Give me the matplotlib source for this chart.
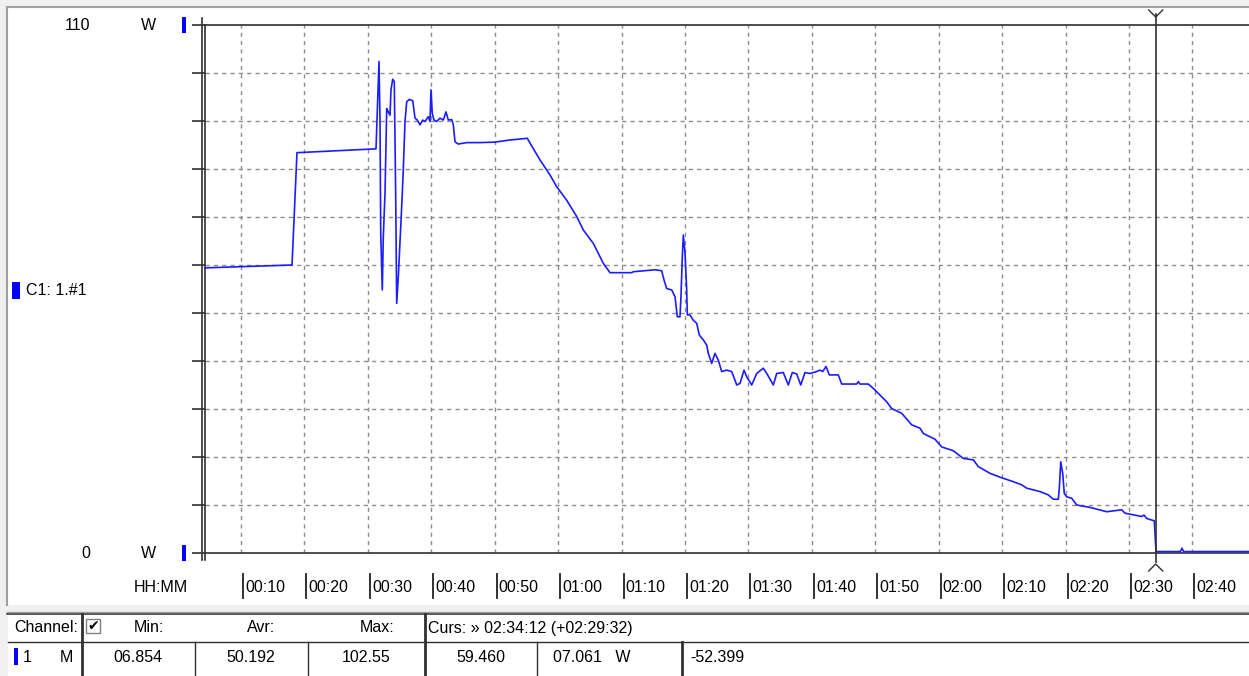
import matplotlib
matplotlib.use("Agg")
import matplotlib.pyplot as plt
import matplotlib.lines as lines
import matplotlib.patches as patches
from matplotlib.transforms import blended_transform_factory, offset_copy

# data: time in minutes since 00:00, power in W
times = [4.32, 18.04, 18.82, 31.28, 31.39, 31.64, 31.75, 31.91, 32.02, 32.27,
         32.43, 32.70, 32.97, 33.22, 33.49, 33.64, 33.91, 34.16, 34.38, 34.54,
         34.80, 35.06, 35.33, 35.58, 35.85, 36.12, 36.53, 37.07, 37.43, 37.79,
         38.22, 38.64, 39.00, 39.52, 39.79, 39.95, 40.15, 40.42, 40.85, 41.37,
         41.89, 42.31, 42.68, 43.21, 43.47, 43.73, 44.00, 44.25, 45.58, 47.68,
         50.04, 52.14, 55.13, 55.56, 57.13, 58.71, 59.77, 61.34, 62.92, 63.96,
         65.54, 67.11, 68.17, 71.59, 71.84, 75.26, 76.32, 76.68, 77.11, 77.90,
         78.42, 78.78, 79.20, 79.36, 79.57, 79.73, 80.00, 80.26, 80.36, 80.78,
         81.30, 81.84, 82.25, 82.88, 83.42, 83.67, 84.20, 84.72, 85.24, 85.78,
         86.57, 87.36, 88.15, 88.67, 89.30, 89.72, 90.51, 91.30, 92.34, 92.88,
         93.92, 94.45, 95.49, 96.28, 96.91, 97.61, 98.24, 98.91, 99.70, 100.76,
         101.28, 101.70, 102.23, 102.75, 104.16, 104.70, 107.06, 107.32, 107.58, 108.89,
         109.68, 110.74, 111.79, 112.58, 114.16, 115.73, 117.04, 117.56, 119.41, 120.46,
         122.29, 123.87, 125.45, 126.23, 128.08, 129.65, 131.75, 133.08, 133.87, 135.96,
         137.27, 138.06, 138.85, 139.01, 139.23, 139.54, 139.79, 140.17, 140.96, 141.75,
         143.84, 146.48, 148.84, 149.36, 152.00, 152.36, 152.78, 153.98, 154.25, 154.36,
         156.5, 158.1, 158.34, 158.6, 169.0]
watts = [59.4, 60.0, 83.4, 84.2, 88.5, 97.9, 102.4, 90.2, 66.9, 54.8,
         65.9, 75.0, 92.6, 91.9, 91.2, 96.5, 98.7, 98.2, 74.9, 52.0,
         57.6, 64.6, 72.2, 79.8, 89.9, 94.0, 94.5, 94.2, 90.6, 90.2,
         89.2, 90.2, 89.9, 90.9, 89.9, 96.5, 91.6, 90.2, 89.9, 90.6,
         90.2, 91.9, 90.2, 90.3, 89.2, 85.7, 85.4, 85.2, 85.5, 85.5,
         85.6, 86.0, 86.4, 85.4, 81.9, 78.75, 76.3, 73.5, 70.1, 67.3,
         64.5, 60.35, 58.4, 58.4, 58.6, 59.0, 58.8, 56.9, 55.1, 54.8,
         53.4, 49.2, 49.2, 53.4, 61.7, 66.25, 62.4, 54.8, 49.6, 49.6,
         48.5, 47.85, 45.4, 44.4, 43.3, 41.6, 39.5, 41.6, 40.2, 37.8,
         38.1, 37.8, 35.0, 35.35, 38.1, 36.7, 35.0, 37.4, 38.5, 37.4,
         35.0, 37.4, 37.6, 35.0, 37.6, 37.3, 35.0, 37.6, 37.4, 37.8,
         38.1, 37.8, 38.85, 37.1, 37.1, 35.2, 35.2, 35.7, 35.2, 35.2,
         34.3, 32.9, 31.5, 30.1, 29.1, 26.7, 26.0, 24.9, 23.7, 22.1,
         21.3, 19.7, 19.4, 18.0, 16.6, 15.8, 14.85, 14.2, 13.5, 12.8,
         12.1, 11.2, 11.2, 13.5, 19.0, 16.6, 12.4, 11.7, 11.4, 10.0,
         9.5, 8.6, 9.0, 8.3, 7.6, 7.9, 7.2, 6.7, 0.3, 0.3,
         0.3, 0.3, 1.0, 0.3, 0.3]

tick_minutes = [10, 20, 30, 40, 50, 60, 70, 80, 90, 100, 110, 120, 130, 140, 150, 160]
tick_labels = ["00:10", "00:20", "00:30", "00:40", "00:50", "01:00", "01:10", "01:20",
               "01:30", "01:40", "01:50", "02:00", "02:10", "02:20", "02:30", "02:40"]
y_max = 110
cursor_t = 154.2

header = ["Min:", "Avr:", "Max:"]
row_vals = ["06.854", "50.192", "102.55", "59.460", "07.061   W", "-52.399"]
cursor_text = "Curs: \u00bb 02:34:12 (+02:29:32)"

W, H = 1249, 676
plt.rcParams['font.family'] = ['Liberation Sans', 'DejaVu Sans']
plt.rcParams['font.size'] = 11.5

fig = plt.figure(figsize=(W / 100, H / 100), dpi=100)
fig.patch.set_facecolor('#f0f0f0')


def fx(x):
    return x / W


def fy(y):
    return 1 - y / H


def fline(xs, ys, color='black', lw=1.0, z=5):
    fig.add_artist(lines.Line2D([fx(v) for v in xs], [fy(v) for v in ys],
                                color=color, lw=lw, transform=fig.transFigure, zorder=z))


def frect(x, y, w, h, color, ec='none', z=5):
    fig.add_artist(patches.Rectangle((fx(x), fy(y + h)), w / W, h / H, fc=color, ec=ec,
                                     lw=1, transform=fig.transFigure, zorder=z))


def ftext(x, y, s, ha='left', va='center', **kw):
    fig.text(fx(x), fy(y), s, ha=ha, va=va, zorder=6, **kw)


# window panels (behind the axes)
frect(8, 8, W - 8, 597, 'white', z=-5)
fline([7, W], [7, 7], '#a0a0a0', 1.5, z=-4)
fline([7, 7], [7, 605], '#a0a0a0', 1.5, z=-4)
frect(8, 613, W - 8, 63, 'white', z=-5)
fline([7, W], [612, 612], '#a0a0a0', 1, z=-4)
fline([7, W], [614, 614], '#404040', 1.2, z=-4)

# main axes
left, right, top, bottom = 205, W, 25, 553
ax = fig.add_axes([fx(left), fy(bottom), (right - left) / W, (bottom - top) / H])
ax.set_facecolor('white')
t0 = (205 - 177.6) / 6.343
t1 = (W - 177.6) / 6.343
ax.set_xlim(t0, t1)
ax.set_ylim(0, y_max)

for t in tick_minutes:
    ax.axvline(t, color='#8c8c8c', lw=1.0, ls=(0, (3, 3)), zorder=1)
for w in range(10, y_max, 10):
    ax.axhline(w, color='#8c8c8c', lw=1.0, ls=(0, (3, 3)), zorder=1)

ax.plot(times, watts, color='#1c1cff', lw=1.2, zorder=3, clip_on=False)
ax.plot([cursor_t, cursor_t], [5.0, 6.7], color='#ffff00', lw=1.3, zorder=5)

ax.spines['right'].set_visible(False)
for s in ['left', 'top', 'bottom']:
    ax.spines[s].set_color('#303030')
    ax.spines[s].set_linewidth(1.2)
ax.set_xticks([])
ax.set_yticks(range(0, y_max + 1, 10))
ax.set_yticklabels([])
ax.tick_params(axis='y', length=9.4, width=1.2, color='#303030', direction='out')

# second left line (double axis)
fline([202, 202], [18, 560], '#303030', 1.2)
fline([205, 205], [553, 560], '#303030', 1.2)

# cursor
bt = blended_transform_factory(ax.transData, ax.transAxes)
ax.add_line(lines.Line2D([cursor_t, cursor_t], [-0.017, 1.02], color='#303030', lw=1.2,
                         transform=bt, clip_on=False, zorder=6))
cx = left + (cursor_t - t0) / (t1 - t0) * (right - left)
fline([cx - 7, cx, cx + 7], [10, 17, 10], '#303030', 1.0)
fline([cx - 7, cx, cx + 7], [571, 564, 571], '#303030', 1.0)

# x tick labels: bar + text
bt_shift = offset_copy(bt, fig=fig, x=2, y=0, units='dots')
bt_text = offset_copy(bt, fig=fig, x=4, y=0, units='dots')
for t, lab in zip(tick_minutes, tick_labels):
    ax.add_line(lines.Line2D([t, t], [-0.040, -0.085], color='#202020', lw=1.3,
                             transform=bt_shift, clip_on=False))
    ax.text(t, -0.066, lab, transform=bt_text, ha='left', va='center', fontsize=11.5,
            clip_on=False)
ftext(188, 588, "HH:MM", ha='right')

# y labels
ftext(90, 25, "110", ha='right')
ftext(148, 25, "W", ha='center')
frect(182, 17, 4, 16, '#0000ff')
ftext(90, 553, "0", ha='right')
ftext(148, 553, "W", ha='center')
frect(182, 545, 4, 16, '#0000ff')
frect(12, 282, 8, 17, '#0000ff')
ftext(26, 290, "C1: 1.#1")

# table
fline([8, W], [642, 642], '#303030', 1.0)
for x, lw in [(82, 2.0), (195, 1.0), (308, 1.0), (425, 2.0), (537, 1.0), (682, 2.0)]:
    y0 = 614 if x in (82, 425) else 642
    fline([x, x], [y0, H], '#303030', lw)
ftext(14, 628, "Channel:")
frect(86, 619, 14, 14, 'white', ec='#808080')
ftext(87, 626, "\u2714", fontsize=10, family=['DejaVu Sans'])
for cx_, s in zip([149, 261, 377], header):
    ftext(cx_, 628, s, ha='center')
ftext(428, 628, cursor_text)
frect(14, 648, 4, 17, '#0000ff')
ftext(23, 657, "1")
ftext(60, 657, "M")
for cx_, s in zip([138, 251, 366, 481, 592], row_vals[:5]):
    ftext(cx_, 657, s, ha='center')
ftext(690, 657, row_vals[5])

fig.savefig("out.png", dpi=100)
